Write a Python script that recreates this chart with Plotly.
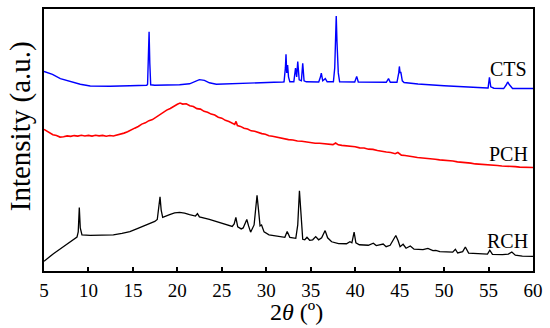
import plotly.graph_objects as go

# ---------------- data ----------------
cts_x = [5.0, 5.95, 6.84, 7.96, 9.08, 10.2, 12.43, 14.66, 16.56, 16.65, 16.75, 16.82, 16.9, 17.0,
         17.46, 20.25, 21.37, 21.93, 22.48, 23.04, 23.6, 24.38, 26.95, 30.86, 31.87,
         32.0, 32.15, 32.22, 32.3, 32.4, 32.5, 32.65,
         33.1, 33.29, 33.42, 33.54, 33.7, 33.95, 34.1, 34.25, 34.5,
         35.9, 36.1, 36.19, 36.35, 36.45, 36.64, 36.85,
         37.55, 37.7, 37.8, 37.87, 37.95, 38.02, 38.1, 38.25,
         39.95, 40.17, 40.35, 43.5, 43.75, 43.95,
         44.7, 44.9, 44.97, 45.05, 45.13, 45.3, 45.5,
         47.06, 50.0, 54.88, 54.95, 55.1, 55.25, 55.6,
         56.7, 57.0, 57.15, 57.35, 57.7, 60.0]
cts_y = [201.5, 198.5, 194.2, 191.0, 188.5, 186.8, 186.5, 187.0, 187.5, 188.5, 215.0, 241.5, 210.0, 188.0,
         187.5, 188.0, 189.0, 191.5, 193.2, 192.5, 190.0, 188.5, 189.0, 190.5, 190.8,
         191.0, 205.0, 218.8, 200.0, 208.0, 196.0, 191.0,
         191.0, 204.8, 196.0, 211.5, 193.0, 192.0, 209.8, 192.0, 191.0,
         190.8, 196.0, 199.8, 192.0, 192.5, 194.2, 191.0,
         191.0, 205.0, 240.0, 257.5, 232.0, 220.0, 200.0, 191.0,
         190.8, 196.5, 190.8, 190.5, 194.2, 190.5,
         190.5, 200.0, 206.5, 200.0, 201.0, 192.0, 190.3,
         188.8, 187.0, 184.8, 184.8, 195.5, 186.0, 184.5,
         184.2, 188.0, 190.8, 188.0, 184.3, 184.2]

pch_x = [5.0, 5.3, 5.6, 6.0, 6.4, 6.8, 7.2, 7.6, 8.0, 8.4, 8.8, 9.2, 9.6, 10.0, 10.4, 10.8,
         11.2, 11.6, 12.0, 12.4, 12.8, 13.2, 13.6, 14.0, 14.4, 14.8, 15.2, 15.6, 16.0, 16.4,
         16.8, 17.2, 17.6, 18.0, 18.4, 18.8, 19.2, 19.6, 20.0, 20.3, 20.6, 21.0, 21.4, 21.8,
         22.2, 22.6, 23.0, 23.4, 23.8, 24.2, 24.6, 25.0, 25.4, 25.8, 26.2, 26.45, 26.6, 26.75,
         27.1, 27.5, 27.9, 28.3, 28.7, 29.1, 29.5, 29.9, 30.3, 30.7, 31.1, 31.5, 32.0, 32.5,
         33.0, 33.5, 34.0, 34.5, 35.0, 35.5, 36.0, 36.5, 37.0, 37.5, 37.8, 38.1, 38.5, 39.0,
         39.5, 40.0, 40.5, 41.0, 41.5, 42.0, 42.5, 43.0, 43.5, 44.0, 44.5, 44.8, 45.2, 45.6,
         46.0, 46.5, 47.0, 47.5, 48.0, 48.5, 49.0, 49.5, 50.0, 50.5, 51.0, 51.5, 52.0, 52.5,
         53.0, 53.5, 54.0, 54.5, 55.0, 55.5, 56.0, 56.5, 57.0, 57.5, 58.0, 58.5, 59.0, 59.5, 60.0]
pch_y = [143.0, 141.2, 139.4, 137.6, 136.8, 135.2, 135.6, 136.4, 135.9, 136.7, 136.2, 137.1, 136.3, 136.9, 136.2, 137.0,
         136.4, 136.9, 136.1, 136.8, 136.3, 137.2, 137.6, 139.2, 140.5, 142.7, 144.2, 145.9, 148.3, 149.6,
         151.8, 152.9, 155.4, 157.6, 160.2, 162.4, 164.1, 166.6, 168.4, 169.6, 168.5, 168.9, 166.8, 166.1,
         163.9, 163.4, 161.2, 160.3, 158.4, 157.5, 155.2, 154.3, 152.1, 151.0, 148.7, 148.0, 151.0, 146.8,
         146.0, 144.1, 143.4, 141.5, 141.0, 139.6, 138.7, 138.0, 136.6, 136.1, 135.2, 134.4, 133.8, 132.6,
         132.3, 131.2, 131.0, 130.1, 129.9, 129.0, 128.9, 128.3, 128.2, 127.6, 129.2, 127.4, 126.8, 126.5,
         125.6, 125.4, 124.3, 124.1, 123.0, 122.8, 121.6, 121.2, 120.1, 119.6, 118.4, 119.6, 117.0, 116.6,
         115.8, 115.4, 114.6, 114.3, 113.6, 113.2, 112.9, 112.2, 112.0, 111.3, 111.1, 110.2, 110.0, 109.1,
         108.9, 108.1, 107.9, 107.4, 107.2, 106.6, 106.5, 106.0, 106.0, 105.5, 105.4, 104.9, 104.9, 104.6, 104.5]

rch_x = [5.0, 6.06, 7.21, 8.15, 8.71, 8.85, 8.97, 9.08, 9.27, 10.2, 11.31, 12.8, 13.77, 14.66,
         15.56, 16.53, 17.46, 17.74, 17.9, 18.05, 18.18, 18.35, 19.13, 19.69, 20.25, 20.81,
         21.37, 22.04, 22.26, 22.48, 23.6, 24.72, 25.84, 26.17, 26.39, 26.58, 26.79, 27.18,
         27.4, 27.63, 27.81, 28.01, 28.24, 28.63, 28.8, 28.96, 29.13, 29.3, 29.47, 29.75,
         30.31, 31.43, 32.09, 32.35, 32.65, 33.32, 33.54, 33.73, 33.94, 34.1, 34.33, 34.58,
         34.88, 35.22, 35.56, 35.89, 36.23, 36.62, 36.9, 37.35, 38.13, 39.02, 39.41, 39.63,
         39.88, 40.08, 40.47, 41.48, 42.04, 42.37, 43.15, 43.48, 43.93, 44.27, 44.57, 44.83,
         45.05, 45.39, 45.72, 46.2, 46.62, 47.63, 48.18, 48.74, 49.07, 49.52, 50.97, 51.27,
         51.53, 52.09, 52.39, 52.76, 53.54, 54.32, 54.88, 55.14, 55.44, 56.56, 57.23, 57.62,
         58.01, 58.8, 60.0]
rch_y = [9.8, 17.5, 24.8, 30.8, 34.2, 39.5, 64.0, 43.5, 36.5, 36.0, 36.0, 36.5, 38.0, 39.8,
         43.0, 46.5, 50.0, 52.0, 61.5, 74.8, 61.5, 54.2, 57.0, 58.7, 59.2, 58.5,
         57.0, 55.5, 58.0, 54.7, 52.0, 49.2, 46.5, 45.0, 47.5, 54.2, 44.5, 42.5,
         43.5, 49.5, 52.0, 45.5, 39.2, 46.5, 61.5, 76.5, 61.5, 45.5, 46.5, 39.5,
         36.5, 34.5, 34.0, 39.8, 34.0, 33.0, 46.5, 81.0, 46.5, 32.0, 31.5, 34.0,
         31.0, 31.5, 34.7, 31.5, 33.5, 40.8, 33.5, 29.5, 27.7, 27.5, 29.5, 28.5,
         39.2, 28.5, 26.5, 26.0, 28.0, 25.7, 27.2, 24.5, 26.0, 30.5, 35.8, 30.5,
         24.5, 27.0, 23.0, 25.3, 22.0, 21.5, 22.8, 20.5, 20.8, 19.5, 19.0, 22.0,
         18.2, 19.5, 24.2, 18.0, 17.5, 17.0, 17.0, 21.0, 16.8, 16.5, 17.0, 19.2,
         16.0, 15.0, 14.8]

series_names = ["CTS", "PCH", "RCH"]
series_colors = ["#0000FF", "#FF0000", "#000000"]
label_x = [57.2, 57.2, 57.1]
label_y = [204.0, 118.0, 30.5]

x_ticks = [5, 10, 15, 20, 25, 30, 35, 40, 45, 50, 55, 60]

# ---------------- figure ----------------
FONT = "Times New Roman, Liberation Serif, serif"
W, H = 550, 328
ML, MR, MT, MB = 44, 14, 7, 57
pw, ph = W - ML - MR, H - MT - MB

fig = go.Figure()
for xs, ys, name, col, lw in [(cts_x, cts_y, "CTS", series_colors[0], 1.4),
                              (pch_x, pch_y, "PCH", series_colors[1], 1.6),
                              (rch_x, rch_y, "RCH", series_colors[2], 1.3)]:
    fig.add_trace(go.Scatter(x=xs, y=ys, mode="lines", name=name,
                             line=dict(color=col, width=lw), showlegend=False))

for name, lx, ly in zip(series_names, label_x, label_y):
    fig.add_annotation(x=lx, y=ly, text=name, showarrow=False, xref="x", yref="y",
                       xanchor="center", yanchor="middle",
                       font=dict(family=FONT, size=20, color="black"))

fig.add_annotation(x=(298 - ML) / pw, y=(H - MB - 312) / ph, xref="paper", yref="paper",
                   text="2<i>θ</i> (º)", showarrow=False, xanchor="center", yanchor="middle",
                   font=dict(family=FONT, size=24, color="black"))
fig.add_annotation(x=(20 - ML) / pw, y=(H - MB - 125) / ph, xref="paper", yref="paper",
                   text="Intensity (a.u.)", showarrow=False, textangle=-90,
                   xanchor="center", yanchor="middle",
                   font=dict(family=FONT, size=29, color="black"))

fig.update_layout(
    width=W, height=H,
    margin=dict(l=ML, r=MR, t=MT, b=MB),
    paper_bgcolor="white", plot_bgcolor="white",
    font=dict(family=FONT, color="black"),
    xaxis=dict(range=[5, 60], tickvals=x_ticks, ticks="inside", ticklen=4, tickwidth=1.5,
               tickcolor="black", showline=True, linewidth=2, linecolor="black", mirror=True,
               showgrid=False, zeroline=False, tickfont=dict(family=FONT, size=19, color="black"),
               ticklabelstandoff=1),
    yaxis=dict(range=[0, 264.5], showticklabels=False, ticks="", showline=True, linewidth=2,
               linecolor="black", mirror=True, showgrid=False, zeroline=False),
)

fig.write_html("out.html", config={"displayModeBar": False},
               post_script="document.body.style.margin='0';")
